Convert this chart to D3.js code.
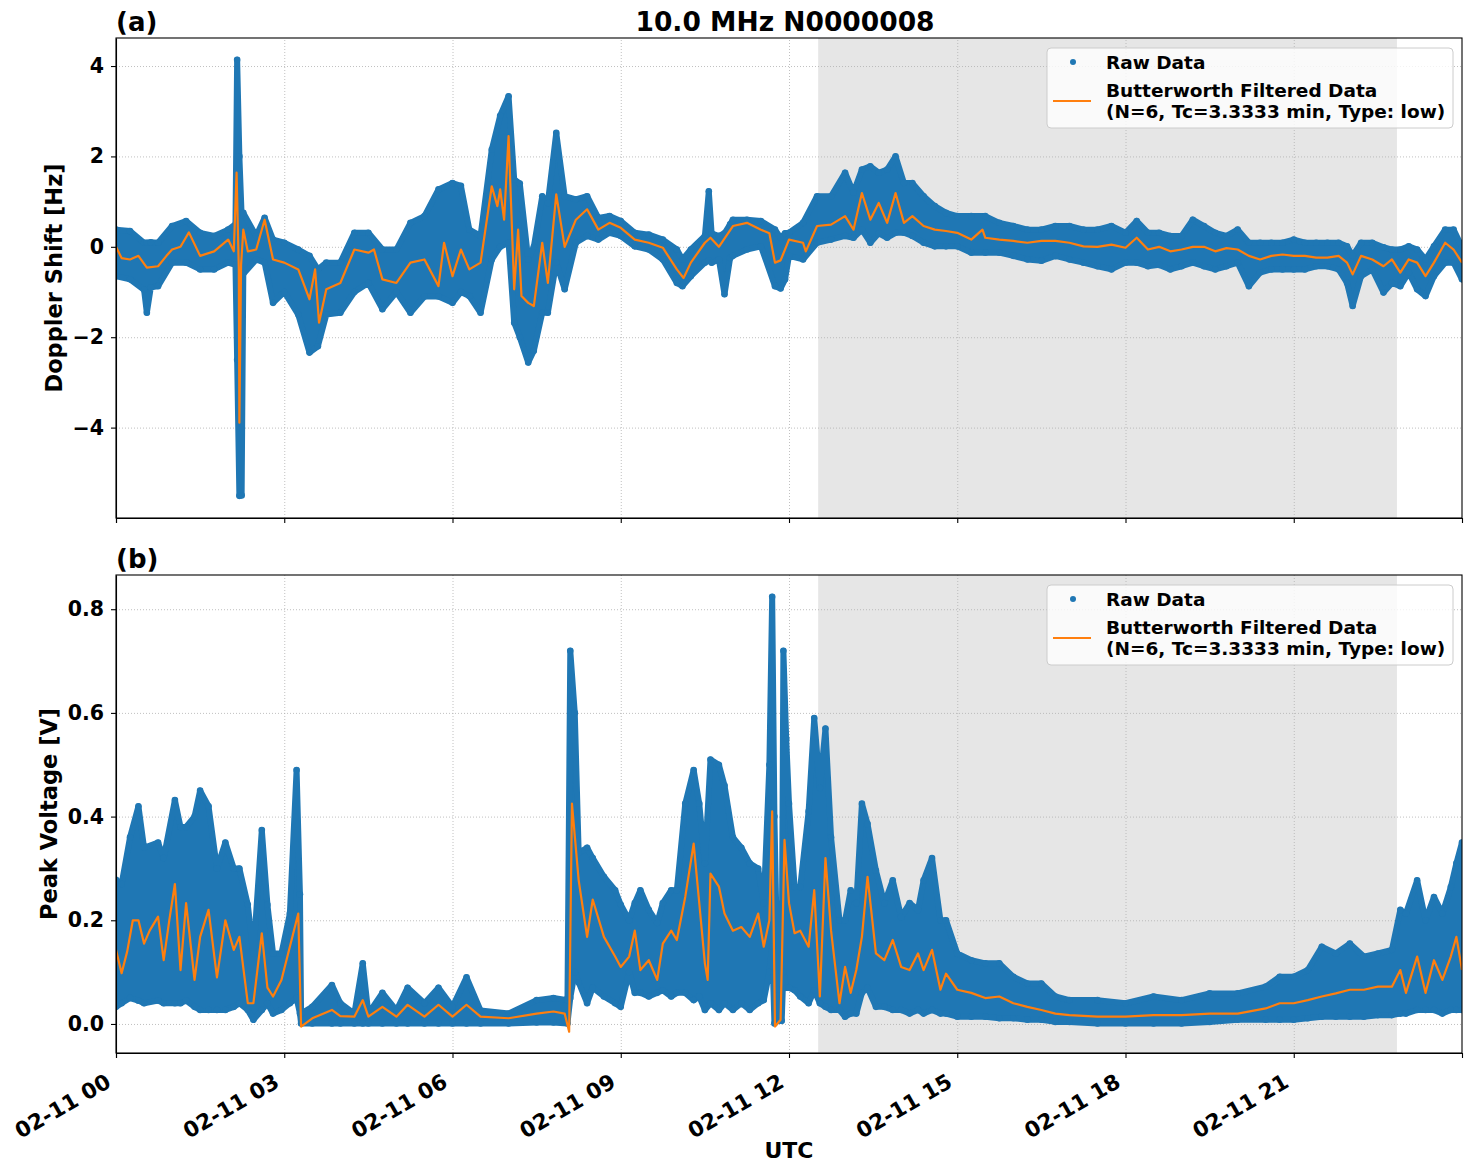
<!DOCTYPE html>
<html>
<head>
  <meta charset="utf-8">
  <script src="https://d3js.org/d3.v7.min.js"></script>
  <style>
    body { margin: 0; background: #fff; }
    text { font-family: "DejaVu Sans", sans-serif; font-weight: bold; fill: #000; }
    .grid line { stroke: #b0b0b0; stroke-width: 0.8; stroke-dasharray: 1,2; }
    .axis path, .axis line { stroke: #000; stroke-width: 1.1; }
    .axis text { font-size: 20.5px; }
  </style>
</head>
<body>
  <div id="chart"></div>

  <script>
    // ---- Doppler shift (panel a), hours UTC on 02-11 ----
    var dopTime = [0, 0.25, 0.5, 0.55, 0.62, 0.75, 1, 1.25, 1.5, 1.75, 2, 2.13, 2.16, 2.2, 2.24, 2.27, 2.5, 2.65, 2.8, 3,
      3.25, 3.45, 3.6, 3.75, 4, 4.25, 4.5, 4.75, 5, 5.25, 5.5, 5.75, 6, 6.15, 6.3, 6.5, 6.7, 6.85, 7, 7.1,
      7.2, 7.35, 7.45, 7.6, 7.7, 7.85, 8, 8.2, 8.4, 8.6, 8.8, 9, 9.25, 9.5, 9.75, 10, 10.1, 10.25, 10.5, 10.57,
      10.62, 10.75, 10.85, 10.95, 11, 11.25, 11.5, 11.75, 11.85, 11.93, 12, 12.25, 12.5, 12.75, 13, 13.15, 13.3, 13.45, 13.6, 13.75,
      13.9, 14.05, 14.2, 14.4, 14.6, 14.8, 15, 15.25, 15.5, 15.75, 16, 16.25, 16.5, 16.75, 17, 17.25, 17.5, 17.75, 18, 18.2,
      18.4, 18.6, 18.8, 19, 19.2, 19.4, 19.6, 19.8, 20, 20.2, 20.4, 20.6, 20.8, 21, 21.2, 21.4, 21.6, 21.8, 21.95, 22.05,
      22.2, 22.4, 22.6, 22.75, 22.9, 23.05, 23.2, 23.35, 23.5, 23.7, 23.85, 24];
    var dopLow = [-0.65, -0.72, -0.95, -1.46, -0.9, -0.87, -0.35, -0.35, -0.5, -0.5, -0.35, -0.4, -2.5, -5.51, -5.5, -0.6, -0.28, -0.35, -1.24, -1,
      -1.5, -2.34, -2.2, -1.5, -1.46, -1, -0.8, -1.38, -1, -1.46, -1.1, -1.1, -1.24, -1, -1.09, -1.46, -0.28, 0, 0.09, -1.68,
      -2, -2.56, -2.3, -1.46, -1.46, -0.35, -0.94, 0.09, 0.24, 0.16, 0.31, 0.24, 0.01, -0.06, -0.28, -0.8, -0.87, -0.65, -0.35, -0.3,
      -0.35, -0.28, -1.05, -0.25, -0.2, -0.06, 0.01, -0.87, -0.92, -0.72, -0.2, -0.28, 0.09, 0.16, 0.24, 0.2, 0.38, 0.09, 0.3, 0.2,
      0.31, 0.31, 0.24, 0.09, 0.01, 0.01, 0.01, -0.13, -0.13, -0.13, -0.2, -0.28, -0.31, -0.2, -0.28, -0.35, -0.43, -0.5, -0.35, -0.35,
      -0.43, -0.4, -0.5, -0.43, -0.35, -0.43, -0.5, -0.43, -0.35, -0.87, -0.57, -0.5, -0.5, -0.5, -0.5, -0.43, -0.43, -0.5, -0.8, -1.31,
      -0.65, -0.5, -1.01, -0.8, -0.87, -0.57, -0.94, -1.09, -0.65, -0.35, -0.35, -0.72];
    var dopHigh = [0.38, 0.35, 0.09, 0.09, 0.1, 0.09, 0.46, 0.57, 0.31, 0.24, 0.38, 0.5, 4.14, 2.0, 0.7, 0.75, 0.24, 0.64, 0.16, 0.09,
      -0.06, -0.2, -0.5, -0.35, -0.35, 0.31, 0.31, -0.06, -0.06, 0.53, 0.68, 1.27, 1.41, 1.35, 0.38, 0.24, 2.15, 2.9, 3.33, 1.49,
      1.4, -0.28, 0, 1.12, 0.97, 2.52, 1.12, 1.05, 1.12, 0.64, 0.68, 0.57, 0.31, 0.27, 0.16, -0.06, -0.28, -0.06, 0.24, 1.23,
      0.3, 0.24, 0.3, 0.5, 0.6, 0.6, 0.57, 0.38, 0.2, 0.3, 0.31, 0.53, 1.12, 1.12, 1.64, 1.2, 1.71, 1.78, 1.64, 1.71,
      2.0, 1.41, 1.41, 1.12, 0.9, 0.75, 0.68, 0.68, 0.68, 0.53, 0.46, 0.38, 0.38, 0.46, 0.46, 0.38, 0.38, 0.46, 0.31, 0.57,
      0.31, 0.31, 0.24, 0.24, 0.6, 0.46, 0.31, 0.24, 0.38, 0.09, 0.09, 0.09, 0.09, 0.16, 0.09, 0.09, 0.09, 0.09, 0.01, -0.2,
      0.09, 0.09, -0.01, -0.06, -0.06, 0.01, -0.06, -0.28, 0.01, 0.38, 0.38, -0.01];

    var dopFiltTime = [0, 0.1, 0.25, 0.4, 0.55, 0.75, 0.9, 1, 1.15, 1.3, 1.5, 1.75, 2, 2.1, 2.15, 2.19, 2.2, 2.23, 2.27, 2.35,
      2.5, 2.65, 2.8, 3, 3.25, 3.45, 3.55, 3.62, 3.75, 4, 4.25, 4.5, 4.6, 4.75, 5, 5.25, 5.5, 5.75, 5.85, 6,
      6.15, 6.3, 6.5, 6.7, 6.8, 6.85, 6.92, 7, 7.1, 7.17, 7.23, 7.35, 7.45, 7.6, 7.7, 7.85, 8, 8.2, 8.4, 8.6,
      8.8, 9, 9.25, 9.5, 9.75, 10, 10.12, 10.25, 10.5, 10.6, 10.75, 11, 11.25, 11.5, 11.65, 11.75, 11.85, 12, 12.25, 12.3,
      12.5, 12.75, 13, 13.15, 13.3, 13.45, 13.6, 13.75, 13.9, 14.05, 14.2, 14.4, 14.6, 14.8, 15, 15.25, 15.45, 15.5, 15.75, 16,
      16.25, 16.5, 16.75, 17, 17.25, 17.5, 17.75, 18, 18.2, 18.4, 18.6, 18.8, 19, 19.2, 19.4, 19.6, 19.8, 20, 20.2, 20.4,
      20.6, 20.8, 21, 21.2, 21.4, 21.6, 21.8, 21.95, 22.05, 22.2, 22.4, 22.6, 22.75, 22.9, 23.05, 23.2, 23.35, 23.5, 23.7, 23.85, 24];
    var dopFilt = [0, -0.25, -0.28, -0.2, -0.46, -0.43, -0.2, -0.06, 0, 0.32, -0.2, -0.1, 0.16, -0.1, 1.64, -0.5, -3.89, -0.4, 0.38, -0.1,
      -0.06, 0.6, -0.28, -0.35, -0.5, -1.16, -0.5, -1.68, -0.94, -0.8, -0.06, -0.13, -0.06, -0.72, -0.8, -0.35, -0.28, -0.87, 0.09, -0.65,
      -0.06, -0.5, -0.35, 1.34, 0.9, 1.27, 0.6, 2.45, -0.94, 0.38, -1.09, -1.24, -1.31, 0.09, -0.8, 1.16, 0, 0.6, 0.83, 0.38,
      0.53, 0.42, 0.16, 0.09, -0.02, -0.5, -0.69, -0.35, 0.09, 0.2, 0, 0.46, 0.53, 0.38, 0.3, -0.35, -0.3, 0.16, 0.09, -0.1,
      0.46, 0.49, 0.68, 0.38, 1.19, 0.6, 0.97, 0.53, 1.19, 0.53, 0.68, 0.46, 0.38, 0.35, 0.31, 0.16, 0.38, 0.2, 0.16, 0.13,
      0.09, 0.13, 0.13, 0.09, 0.01, 0, 0.05, -0.02, 0.2, -0.06, 0, -0.1, -0.06, 0, 0, -0.1, -0.03, -0.06, -0.2, -0.28,
      -0.2, -0.17, -0.2, -0.2, -0.24, -0.24, -0.2, -0.35, -0.61, -0.2, -0.28, -0.43, -0.28, -0.57, -0.28, -0.35, -0.65, -0.35, 0.09, -0.06, -0.35];

    // ---- Peak voltage (panel b) ----
    var volTime = [0, 0.1, 0.25, 0.4, 0.5, 0.75, 0.85, 1.05, 1.15, 1.25, 1.4, 1.5, 1.65, 1.8, 1.95, 2.1, 2.2, 2.35, 2.45, 2.6,
      2.7, 2.8, 2.95, 3.1, 3.22, 3.28, 3.3, 3.5, 3.85, 4, 4.25, 4.4, 4.5, 4.75, 5, 5.2, 5.5, 5.75, 6, 6.25,
      6.5, 7, 7.5, 7.8, 8.05, 8.1, 8.18, 8.25, 8.4, 8.5, 8.7, 8.9, 9, 9.15, 9.25, 9.35, 9.5, 9.65, 9.75, 9.9,
      10, 10.15, 10.3, 10.4, 10.5, 10.6, 10.75, 10.85, 11, 11.15, 11.3, 11.45, 11.55, 11.65, 11.7, 11.74, 11.8, 11.87, 11.9, 11.95,
      12, 12.1, 12.2, 12.35, 12.45, 12.55, 12.65, 12.75, 12.9, 13, 13.1, 13.2, 13.3, 13.4, 13.55, 13.7, 13.85, 14, 14.15, 14.3,
      14.4, 14.55, 14.7, 14.8, 15, 15.25, 15.5, 15.75, 16, 16.25, 16.5, 16.75, 17, 17.5, 18, 18.5, 19, 19.5, 20, 20.5,
      20.75, 21, 21.25, 21.5, 21.75, 22, 22.25, 22.5, 22.75, 22.9, 23, 23.2, 23.35, 23.5, 23.65, 23.8, 23.9, 24];
    var volLow = [0.033, 0.04, 0.05, 0.045, 0.04, 0.045, 0.04, 0.04, 0.04, 0.045, 0.033, 0.027, 0.027, 0.027, 0.027, 0.033, 0.04, 0.027, 0.008, 0.027,
      0.04, 0.02, 0.027, 0.04, 0.05, 0.02, 0.001, 0.001, 0.001, 0.001, 0.001, 0.001, 0.001, 0.001, 0.001, 0.001, 0.001, 0.001, 0.001, 0.001,
      0.001, 0.001, 0.003, 0.003, 0.001, 0.05, 0.1, 0.08, 0.04, 0.07, 0.053, 0.04, 0.033, 0.1, 0.06, 0.06, 0.053, 0.06, 0.065, 0.053,
      0.06, 0.06, 0.046, 0.053, 0.027, 0.04, 0.027, 0.04, 0.027, 0.04, 0.027, 0.04, 0.046, 0.1, 0.15, 0.001, 0.006, 0.006, 0.1, 0.07,
      0.07, 0.065, 0.053, 0.04, 0.065, 0.04, 0.033, 0.027, 0.027, 0.014, 0.02, 0.02, 0.06, 0.07, 0.033, 0.033, 0.027, 0.027, 0.02, 0.027,
      0.02, 0.027, 0.02, 0.02, 0.014, 0.014, 0.014, 0.011, 0.011, 0.008, 0.008, 0.004, 0.004, 0.001, 0.001, 0.001, 0.001, 0.004, 0.008, 0.008,
      0.008, 0.008, 0.011, 0.014, 0.014, 0.014, 0.014, 0.017, 0.017, 0.02, 0.02, 0.027, 0.027, 0.027, 0.02, 0.027, 0.027, 0.027];
    var volHigh = [0.278, 0.27, 0.36, 0.42, 0.34, 0.35, 0.32, 0.432, 0.38, 0.38, 0.4, 0.45, 0.42, 0.3, 0.35, 0.3, 0.3, 0.23, 0.136, 0.374,
      0.23, 0.136, 0.136, 0.213, 0.49, 0.25, 0.02, 0.033, 0.075, 0.04, 0.02, 0.117, 0.02, 0.06, 0.026, 0.07, 0.04, 0.07, 0.033, 0.09,
      0.026, 0.02, 0.046, 0.05, 0.046, 0.72, 0.6, 0.33, 0.34, 0.32, 0.284, 0.258, 0.23, 0.2, 0.233, 0.258, 0.22, 0.195, 0.233, 0.258,
      0.258, 0.425, 0.49, 0.425, 0.31, 0.51, 0.5, 0.46, 0.36, 0.34, 0.31, 0.3, 0.233, 0.5, 0.824, 0.4, 0.066, 0.1, 0.72, 0.55,
      0.425, 0.264, 0.264, 0.41, 0.59, 0.455, 0.57, 0.36, 0.2, 0.2, 0.258, 0.233, 0.425, 0.386, 0.296, 0.233, 0.277, 0.206, 0.233, 0.22,
      0.277, 0.32, 0.2, 0.2, 0.136, 0.123, 0.117, 0.117, 0.091, 0.078, 0.078, 0.053, 0.046, 0.046, 0.04, 0.053, 0.046, 0.059, 0.059, 0.072,
      0.091, 0.091, 0.104, 0.149, 0.136, 0.155, 0.13, 0.136, 0.143, 0.22, 0.213, 0.277, 0.2, 0.245, 0.213, 0.264, 0.31, 0.35];

    var volFiltTime = [0, 0.1, 0.2, 0.3, 0.4, 0.5, 0.6, 0.75, 0.85, 0.95, 1.05, 1.15, 1.25, 1.4, 1.5, 1.65, 1.8, 1.95, 2.1, 2.2,
      2.35, 2.45, 2.6, 2.7, 2.8, 2.95, 3.1, 3.25, 3.3, 3.5, 3.85, 4, 4.25, 4.4, 4.5, 4.75, 5, 5.2, 5.5, 5.75,
      6, 6.25, 6.5, 7, 7.5, 7.8, 8, 8.08, 8.13, 8.25, 8.4, 8.5, 8.7, 8.9, 9, 9.15, 9.25, 9.35, 9.5, 9.65,
      9.75, 9.9, 10, 10.15, 10.3, 10.4, 10.5, 10.55, 10.6, 10.75, 10.85, 11, 11.15, 11.3, 11.45, 11.55, 11.65, 11.7, 11.75, 11.85,
      11.92, 12, 12.1, 12.2, 12.35, 12.45, 12.55, 12.65, 12.75, 12.9, 13, 13.1, 13.2, 13.3, 13.4, 13.55, 13.7, 13.85, 14, 14.15,
      14.3, 14.4, 14.55, 14.7, 14.8, 15, 15.25, 15.5, 15.75, 16, 16.25, 16.5, 16.75, 17, 17.5, 18, 18.5, 19, 19.5, 20,
      20.5, 20.75, 21, 21.25, 21.5, 21.75, 22, 22.25, 22.5, 22.75, 22.9, 23, 23.2, 23.35, 23.5, 23.65, 23.8, 23.9, 24];
    var volFilt = [0.143, 0.098, 0.14, 0.2, 0.2, 0.155, 0.18, 0.207, 0.123, 0.2, 0.27, 0.104, 0.233, 0.085, 0.168, 0.22, 0.09, 0.2, 0.143, 0.168,
      0.04, 0.04, 0.175, 0.07, 0.053, 0.085, 0.149, 0.213, -0.005, 0.011, 0.027, 0.015, 0.014, 0.046, 0.014, 0.033, 0.014, 0.037, 0.014, 0.037,
      0.014, 0.037, 0.014, 0.011, 0.02, 0.024, 0.02, -0.015, 0.425, 0.277, 0.168, 0.24, 0.168, 0.13, 0.11, 0.13, 0.18, 0.104, 0.123, 0.085,
      0.155, 0.18, 0.162, 0.245, 0.348, 0.233, 0.117, 0.085, 0.29, 0.265, 0.213, 0.18, 0.187, 0.168, 0.213, 0.149, 0.2, 0.41, -0.005, 0.008,
      0.355, 0.233, 0.175, 0.18, 0.149, 0.258, 0.053, 0.32, 0.18, 0.04, 0.11, 0.06, 0.104, 0.168, 0.284, 0.136, 0.123, 0.162, 0.11, 0.104,
      0.136, 0.104, 0.143, 0.066, 0.097, 0.066, 0.06, 0.05, 0.053, 0.04, 0.033, 0.027, 0.02, 0.017, 0.014, 0.014, 0.017, 0.017, 0.02, 0.02,
      0.03, 0.04, 0.04, 0.046, 0.053, 0.059, 0.066, 0.066, 0.072, 0.072, 0.104, 0.06, 0.13, 0.06, 0.123, 0.085, 0.13, 0.168, 0.104];

    var xTicks = [0, 3, 6, 9, 12, 15, 18, 21];
    var xTickLabels = ["02-11 00", "02-11 03", "02-11 06", "02-11 09", "02-11 12", "02-11 15", "02-11 18", "02-11 21"];
    var shadeSpan = [12.52, 22.84];
    var legendLabels = ["Raw Data", "Butterworth Filtered Data", "(N=6, Tc=3.3333 min, Type: low)"];

    var blue = "#1f77b4", orange = "#ff7f0e";
    var width = 1471, height = 1172;
    var left = 116, right = 1462;

    var svg = d3.select("#chart").append("svg")
      .attr("width", width)
      .attr("height", height);

    var x = d3.scaleLinear().domain([0, 24]).range([left, right]);

    svg.append("text")
      .attr("x", 785).attr("y", 31)
      .attr("text-anchor", "middle")
      .style("font-size", "26.5px")
      .text("10.0 MHz N0000008");

    function drawPanel(cfg) {
      var y = d3.scaleLinear().domain(cfg.domain).range([cfg.bottom, cfg.top]);
      var g = svg.append("g");

      g.append("clipPath").attr("id", cfg.id + "-clip")
        .append("rect")
        .attr("x", left).attr("y", cfg.top)
        .attr("width", right - left).attr("height", cfg.bottom - cfg.top);

      // shaded interval
      g.append("rect")
        .attr("x", x(shadeSpan[0])).attr("y", cfg.top)
        .attr("width", x(shadeSpan[1]) - x(shadeSpan[0]))
        .attr("height", cfg.bottom - cfg.top)
        .attr("fill", "#808080").attr("fill-opacity", 0.2);

      // grid
      g.append("g").attr("class", "grid")
        .attr("transform", "translate(0," + cfg.bottom + ")")
        .call(d3.axisBottom(x).tickValues(xTicks).tickSize(-(cfg.bottom - cfg.top)).tickFormat(""))
        .call(function(s) { s.select(".domain").remove(); });
      g.append("g").attr("class", "grid")
        .attr("transform", "translate(" + left + ",0)")
        .call(d3.axisLeft(y).tickValues(cfg.ticks).tickSize(-(right - left)).tickFormat(""))
        .call(function(s) { s.select(".domain").remove(); });

      var data = cfg.time.map(function(t, i) { return { t: t, lo: cfg.low[i], hi: cfg.high[i] }; });
      var filt = cfg.filtTime.map(function(t, i) { return { t: t, v: cfg.filt[i] }; });

      var plot = g.append("g").attr("clip-path", "url(#" + cfg.id + "-clip)");

      // raw data cloud as its min/max envelope
      var area = d3.area()
        .x(function(d) { return x(d.t); })
        .y0(function(d) { return y(d.lo); })
        .y1(function(d) { return y(d.hi); });
      plot.append("path")
        .datum(data)
        .attr("d", area)
        .attr("fill", blue)
        .attr("stroke", blue)
        .attr("stroke-width", 6)
        .attr("stroke-linejoin", "round");

      plot.selectAll(".hi-dot").data(data).enter().append("circle")
        .attr("cx", function(d) { return x(d.t); })
        .attr("cy", function(d) { return y(d.hi); })
        .attr("r", 3.3).attr("fill", blue);
      plot.selectAll(".lo-dot").data(data).enter().append("circle")
        .attr("cx", function(d) { return x(d.t); })
        .attr("cy", function(d) { return y(d.lo); })
        .attr("r", 3.3).attr("fill", blue);

      var line = d3.line()
        .x(function(d) { return x(d.t); })
        .y(function(d) { return y(d.v); });
      plot.append("path")
        .datum(filt)
        .attr("d", line)
        .attr("fill", "none")
        .attr("stroke", orange)
        .attr("stroke-width", 2.2)
        .attr("stroke-linejoin", "round");

      // axes
      var xAxis = g.append("g").attr("class", "axis")
        .attr("transform", "translate(0," + cfg.bottom + ")")
        .call(d3.axisBottom(x).tickValues(xTicks).tickSizeOuter(0).tickSize(5)
          .tickFormat(function(d, i) { return cfg.showX ? xTickLabels[i] : ""; }));
      if (cfg.showX) {
        xAxis.selectAll("text")
          .attr("text-anchor", "end")
          .attr("dy", null)
          .attr("y", 0)
          .style("font-size", "21.5px")
          .attr("transform", "translate(-4,33) rotate(-30)");
      }
      g.append("g").attr("class", "axis")
        .attr("transform", "translate(" + left + ",0)")
        .call(d3.axisLeft(y).tickValues(cfg.ticks).tickSize(5).tickSizeOuter(0).tickPadding(7)
          .tickFormat(cfg.fmt));

      g.append("rect")
        .attr("x", left).attr("y", cfg.top)
        .attr("width", right - left).attr("height", cfg.bottom - cfg.top)
        .attr("fill", "none").attr("stroke", "#000").attr("stroke-width", 1.1);

      g.append("text")
        .attr("x", left).attr("y", cfg.top - 7)
        .style("font-size", "26px")
        .text(cfg.tag);

      g.append("text")
        .attr("transform", "translate(" + cfg.labelX + "," + ((cfg.top + cfg.bottom) / 2) + ") rotate(-90)")
        .attr("text-anchor", "middle")
        .style("font-size", "22.5px")
        .text(cfg.label);

      // legend
      var lg = g.append("g").attr("transform", "translate(1047," + (cfg.top + 10) + ")");
      lg.append("rect")
        .attr("width", 406).attr("height", 80).attr("rx", 4)
        .attr("fill", "#fff").attr("fill-opacity", 0.8)
        .attr("stroke", "#cccccc");
      lg.append("circle").attr("cx", 26).attr("cy", 14).attr("r", 3).attr("fill", blue);
      lg.append("line").attr("x1", 6).attr("x2", 44).attr("y1", 53).attr("y2", 53)
        .attr("stroke", orange).attr("stroke-width", 2.2);
      lg.selectAll("text.leg").data(legendLabels).enter().append("text")
        .attr("x", 59)
        .attr("y", function(d, i) { return [21, 49, 70][i]; })
        .style("font-size", "18.5px")
        .text(function(d) { return d; });
    }

    drawPanel({
      id: "dop", top: 38, bottom: 518, domain: [-6, 4.62],
      ticks: [-4, -2, 0, 2, 4], fmt: function(d) { return d < 0 ? "\u2212" + Math.abs(d) : String(d); },
      time: dopTime, low: dopLow, high: dopHigh, filtTime: dopFiltTime, filt: dopFilt,
      tag: "(a)", label: "Doppler Shift [Hz]", labelX: 62, showX: false
    });
    drawPanel({
      id: "vol", top: 575, bottom: 1053, domain: [-0.056, 0.866],
      ticks: [0, 0.2, 0.4, 0.6, 0.8], fmt: d3.format(".1f"),
      time: volTime, low: volLow, high: volHigh, filtTime: volFiltTime, filt: volFilt,
      tag: "(b)", label: "Peak Voltage [V]", labelX: 57, showX: true
    });

    svg.append("text")
      .attr("x", 789).attr("y", 1158)
      .attr("text-anchor", "middle")
      .style("font-size", "22px")
      .text("UTC");
  </script>
</body>
</html>
